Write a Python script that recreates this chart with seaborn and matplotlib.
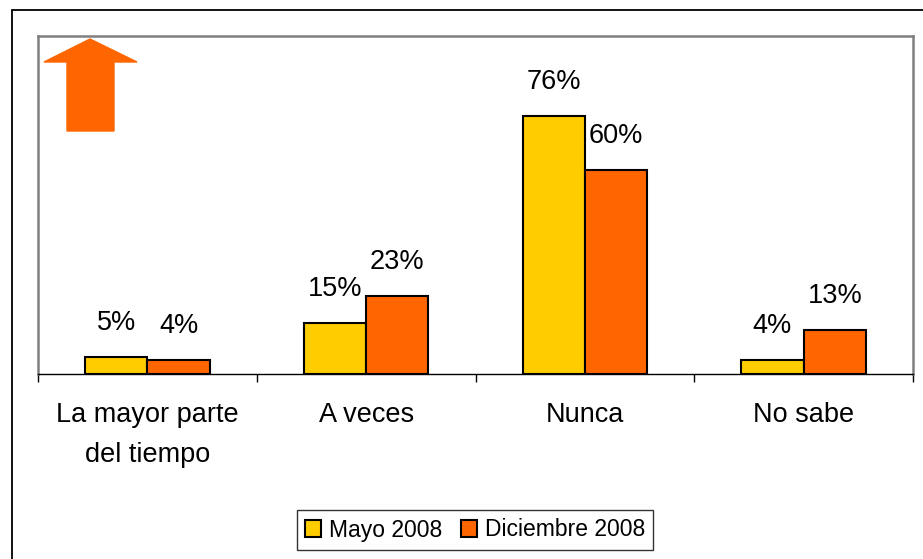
import numpy as np
import pandas as pd
import matplotlib
matplotlib.use("Agg")
import matplotlib.pyplot as plt
from matplotlib.patches import Rectangle
import seaborn as sns

categorias = ["La mayor parte\ndel tiempo", "A veces", "Nunca", "No sabe"]
mayo_2008 = [5, 15, 76, 4]
diciembre_2008 = [4, 23, 60, 13]
series = ["Mayo 2008", "Diciembre 2008"]
colores = ["#FFCC00", "#FF6600"]

df = pd.DataFrame({
    "categoria": categorias * 2,
    "valor": mayo_2008 + diciembre_2008,
    "serie": [series[0]] * 4 + [series[1]] * 4,
})

sns.set_style("white")
plt.rcParams["font.family"] = ["Liberation Sans", "DejaVu Sans"]
plt.rcParams["text.color"] = "black"
plt.rcParams["xtick.color"] = "black"

fig = plt.figure(figsize=(9.23, 5.59), dpi=100)
ax = fig.add_axes([38 / 923, 1 - 374 / 559, (913 - 38) / 923, (374 - 36) / 559])

sns.barplot(data=df, x="categoria", y="valor", hue="serie", palette=colores,
            saturation=1, width=0.57, edgecolor="black", linewidth=1.5,
            ax=ax, legend=False)

ax.set_xlim(-0.5, 3.5)
ax.set_ylim(0, 99.6)
ax.set_xlabel("")
ax.set_ylabel("")
ax.set_yticks([])

# value labels
for cont in ax.containers:
    for bar in cont:
        h = bar.get_height()
        ax.text(bar.get_x() + bar.get_width() / 2, h + 10, f"{h:.0f}%",
                ha="center", va="center", fontsize=19.5, color="black")

# ticks at category boundaries
ax.set_xticks(np.arange(4))
ax.set_xticklabels(categorias, fontsize=19.5, linespacing=1.7, color="black")
ax.set_xticks(np.arange(-0.5, 4, 1), minor=True)
ax.tick_params(axis="x", which="major", length=0, pad=20)
ax.tick_params(axis="x", which="minor", length=6, width=1, color="black",
               direction="out", bottom=True)

for s in ["left", "top", "right"]:
    ax.spines[s].set_color("#808080")
    ax.spines[s].set_linewidth(1.8)
ax.spines["bottom"].set_color("black")
ax.spines["bottom"].set_linewidth(1)

# orange arrow top-left
W, H = 923, 559
arrow_pts = np.array([
    [67, 131], [114, 131], [114, 62], [137, 62], [90, 39], [44, 62], [67, 62]
], dtype=float)
arrow_pts[:, 0] /= W
arrow_pts[:, 1] = 1 - arrow_pts[:, 1] / H
fig.patches.append(plt.Polygon(arrow_pts, closed=True, color="#FF6600",
                               transform=fig.transFigure, zorder=5))

# outer frame
fig.patches.append(Rectangle((12 / W, -0.05), 1.2, 1 - 10 / H + 0.05,
                             transform=fig.transFigure, fill=False,
                             edgecolor="black", linewidth=1.3))

handles = [Rectangle((0, 0), 1, 1, facecolor=c, edgecolor="black", linewidth=1.5)
           for c in colores]
leg = fig.legend(handles, series, loc="center", bbox_to_anchor=(475 / W, 1 - 530 / H),
                 ncol=2, fontsize=16.5, frameon=True, fancybox=False,
                 handlelength=0.7, handleheight=0.7, handletextpad=0.35,
                 columnspacing=0.8, borderpad=0.35, borderaxespad=0.3)
leg.get_frame().set_edgecolor("black")
leg.get_frame().set_linewidth(1)

fig.savefig("out.png", dpi=100)
